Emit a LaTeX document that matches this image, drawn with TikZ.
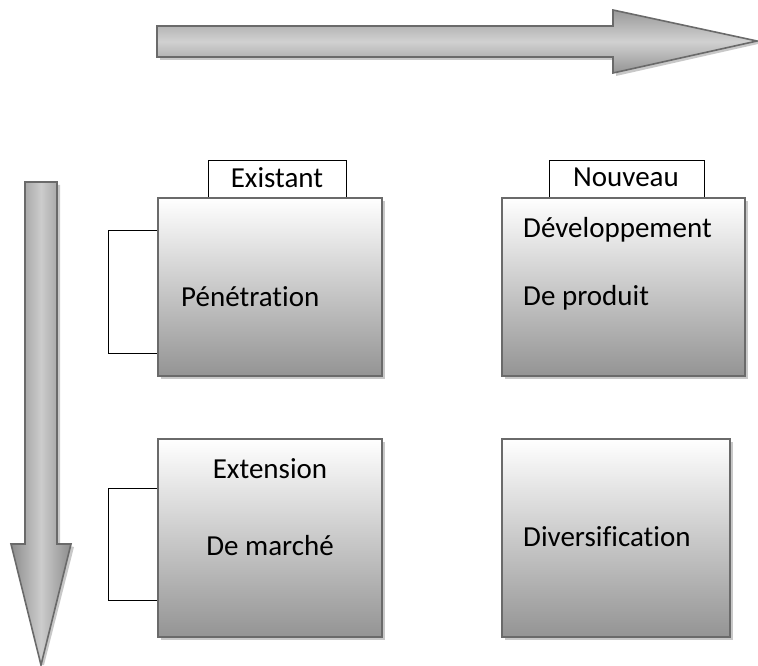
\documentclass[tikz,border=0pt]{standalone}
\usepackage{fontspec}
\setmainfont{Carlito}[Ligatures={NoCommon}]
\usetikzlibrary{shadows}
\definecolor{edgegray}{HTML}{6A6A6A}
\definecolor{shadowgray}{HTML}{C8C8C8}
\begin{document}
\begin{tikzpicture}[x=1pt,y=-1pt,
  bigbox/.style={draw=edgegray, line width=1.6pt, top color=white, bottom color=black!42,
    minimum width=#1, inner sep=0pt, outer sep=0pt, anchor=north west,
    drop shadow={shadow xshift=3pt, shadow yshift=-3pt, fill=shadowgray, opacity=1}},
  tab/.style={draw=black, line width=0.9pt, fill=white, inner sep=0pt, outer sep=0pt, anchor=north west},
  lbl/.style={inner sep=0pt, font=\fontsize{29}{34}\selectfont},
  arrowbody/.style={draw=edgegray, line width=1.6pt}
]
\useasboundingbox (0,0) rectangle (758,666);

% horizontal arrow
\fill[shadowgray] (160,60) -- (616,60) -- (616,76) -- (758,44) -- (758,41) -- (613,73) -- (613,57) -- (160,57) -- cycle;
\path[arrowbody, top color=black!40, bottom color=black!42, middle color=black!18]
  (157,26) -- (613,26) -- (613,10) -- (757,41) -- (613,73) -- (613,57) -- (157,57) -- cycle;

% vertical arrow
\fill[shadowgray] (57,185) -- (60,185) -- (60,544) -- (74,547) -- (44,665) -- (41,665) -- (71,544) -- (57,544) -- cycle;
\path[arrowbody, left color=black!45, right color=black!45, middle color=black!20]
  (25,182) -- (57,182) -- (57,544) -- (71,544) -- (41,665) -- (11,544) -- (25,544) -- cycle;

% tabs
\node[tab, minimum width=138pt, minimum height=38pt] (tabE) at (208,160) {};
\node[tab, minimum width=155pt, minimum height=38pt] (tabN) at (549,160) {};
\node[tab, minimum width=50pt, minimum height=123pt] (tabL1) at (108,230) {};
\node[tab, minimum width=50pt, minimum height=112pt] (tabL2) at (108,488) {};

% boxes
\node[bigbox=224pt, minimum height=178pt] (b1) at (158,198) {};
\node[bigbox=243pt, minimum height=178pt] (b2) at (502,198) {};
\node[bigbox=224pt, minimum height=198pt] (b3) at (158,439) {};
\node[bigbox=228pt, minimum height=198pt] (b4) at (502,439) {};

% labels
\node[lbl, anchor=base] (tE) at (277,187) {Existant};
\node[lbl, anchor=base] (tN) at (626,186) {Nouveau};
\node[lbl, anchor=base west] (t1) at (181,306) {Pénétration};
\node[lbl, anchor=base west] (t2a) at (523,237) {Développement};
\node[lbl, anchor=base west] (t2b) at (523,305) {De produit};
\node[lbl, anchor=base] (t3a) at (270,478) {Extension};
\node[lbl, anchor=base] (t3b) at (270,555) {De marché};
\node[lbl, anchor=base west] (t4) at (523,546) {Diversification};
\end{tikzpicture}
\end{document}
